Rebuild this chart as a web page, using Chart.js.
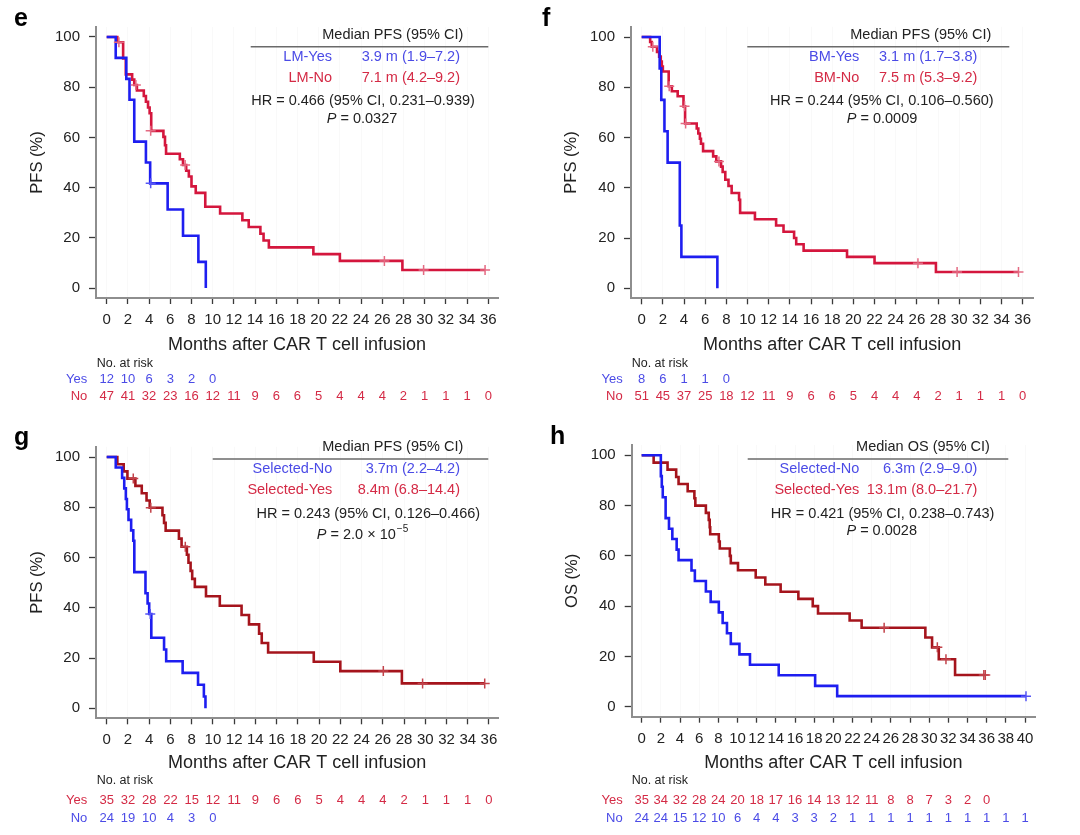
<!DOCTYPE html>
<html><head><meta charset="utf-8">
<script src="https://cdn.jsdelivr.net/npm/chart.js@4.4.1/dist/chart.umd.min.js"></script>
<style>
html,body{margin:0;padding:0;background:#fff;}
#wrap{position:relative;width:1080px;height:835px;overflow:hidden;}
canvas{position:absolute;}
</style></head><body>
<div id="wrap">
<canvas id="cE" width="540" height="420" style="left:0;top:0"></canvas>
<canvas id="cF" width="540" height="420" style="left:540px;top:0"></canvas>
<canvas id="cG" width="540" height="415" style="left:0;top:420px"></canvas>
<canvas id="cH" width="540" height="415" style="left:540px;top:420px"></canvas>
</div>
<script>
// ---------------- DATA ----------------
const months36 = [0,2,4,6,8,10,12,14,16,18,20,22,24,26,28,30,32,34,36];
const months40 = [0,2,4,6,8,10,12,14,16,18,20,22,24,26,28,30,32,34,36,38,40];
const pctTicks = [0,20,40,60,80,100];

// Panel e : LM-Yes (blue) / LM-No (red)
const eYesTime = [0,0.85,1.85,2.15,2.6,3.7,4.1,5.75,7.2,8.65,9.35];
const eYesSurv = [100,91.7,83.3,75.0,58.3,50.0,41.7,31.3,20.8,10.4,0];
const eYesCensTime = [4.15];
const eYesCensSurv = [41.7];
const eNoTime = [0,1.0,1.55,1.8,2.4,2.6,2.85,3.5,3.7,3.9,4.05,4.2,5.35,5.5,5.6,6.9,7.2,7.5,7.75,8.0,8.4,9.3,10.7,12.8,13.4,14.5,14.8,15.3,19.5,22.0,27.9,35.7];
const eNoSurv = [100,97.9,91.5,85.1,83.0,80.9,78.7,76.5,74.2,71.9,69.6,62.6,60.2,56.9,53.5,51.3,49.0,46.7,44.4,40.5,37.9,32.4,29.7,27.0,24.3,21.6,18.9,16.2,13.5,10.8,7.2,7.2];
const eNoCensTime = [1.15,2.75,4.15,7.4,26.2,29.9,35.7];
const eNoCensSurv = [97.9,80.9,62.6,49.0,10.8,7.2,7.2];
const eRiskYes = [12,10,6,3,2,0];
const eRiskNo = [47,41,32,23,16,12,11,9,6,6,5,4,4,4,2,1,1,1,0];

// Panel f : BM-Yes (blue) / BM-No (red)
const fYesTime = [0,1.7,1.85,2.15,2.45,3.6,3.75,7.15];
const fYesSurv = [100,87.5,75.0,62.5,50.0,25.0,12.5,0];
const fNoTime = [0,0.8,0.95,1.45,1.65,1.8,1.9,2.0,2.55,2.85,3.4,3.95,4.1,5.2,5.35,5.5,5.6,5.8,6.75,7.05,7.5,7.65,7.9,8.2,8.5,9.2,9.3,10.7,12.7,13.4,14.4,14.6,15.3,19.4,22.0,27.8,35.6];
const fNoSurv = [100,98.0,96.1,94.1,92.2,90.2,88.2,86.3,80.4,78.4,76.4,72.4,65.6,63.6,61.6,59.5,57.5,54.6,52.5,50.5,48.4,46.3,43.2,40.7,37.9,35.2,30.0,27.5,25.0,22.5,20.0,17.5,15.0,12.5,10.0,6.5,6.5];
const fNoCensTime = [1.05,2.6,4.05,4.15,7.3,26.1,29.8,35.6];
const fNoCensSurv = [96.1,80.4,72.4,65.6,50.5,10.0,6.5,6.5];
const fRiskYes = [8,6,1,1,0];
const fRiskNo = [51,45,37,25,18,12,11,9,6,6,5,4,4,4,2,1,1,1,0];

// Panel g : Selected-No (blue) / Selected-Yes (dark red), PFS
const gNoTime = [0,0.85,1.45,1.65,1.8,1.9,2.05,2.3,2.5,2.6,3.65,3.85,4.0,4.2,5.4,5.6,7.15,8.6,9.15,9.3];
const gNoSurv = [100,95.8,91.7,87.5,83.3,79.2,75.0,70.8,66.7,54.2,45.8,41.7,37.5,28.1,23.4,18.75,14.1,9.4,4.7,0];
const gNoCensTime = [4.1];
const gNoCensSurv = [37.5];
const gYesTime = [0,1.0,1.6,1.95,2.7,3.3,3.75,4.05,5.25,5.4,5.55,6.8,7.05,7.55,7.7,7.9,8.05,8.3,9.35,10.65,12.7,13.4,14.35,14.6,15.2,19.5,22.0,27.8,35.6];
const gYesSurv = [100,97.1,94.3,91.4,88.5,85.6,82.7,79.8,76.8,73.8,70.7,67.5,64.3,61.1,57.9,54.7,51.5,48.3,44.6,40.8,37.1,33.4,29.7,26.0,22.2,18.5,14.8,9.9,9.9];
const gYesCensTime = [2.5,4.15,7.4,26.05,29.75,35.6];
const gYesCensSurv = [91.4,79.8,64.3,14.8,9.9,9.9];
const gRiskYes = [35,32,28,22,15,12,11,9,6,6,5,4,4,4,2,1,1,1,0];
const gRiskNo = [24,19,10,4,3,0];

// Panel h : Selected-No (blue) / Selected-Yes (dark red), OS
const hNoTime = [0,2.0,2.1,2.2,2.5,2.85,3.2,3.65,3.85,5.2,5.55,6.7,7.2,8.05,8.45,8.9,9.3,10.2,11.3,14.3,18.1,20.4,40.1];
const hNoSurv = [100,91.7,87.5,83.3,75.0,70.8,66.7,62.5,58.3,54.2,50.0,45.8,41.7,37.5,33.3,29.2,25.0,20.8,16.7,12.5,8.3,4.2,4.2];
const hNoCensTime = [40.1];
const hNoCensSurv = [4.2];
const hYesTime = [0,1.25,2.7,3.6,3.85,4.8,5.5,5.6,6.7,7.0,7.1,7.15,8.05,8.15,9.2,9.3,10.05,11.9,12.9,14.5,16.35,17.85,18.4,21.7,22.95,29.6,30.3,31.0,32.7,35.8];
const hYesSurv = [100,97.1,94.3,91.4,88.6,85.7,82.9,80.0,77.1,74.3,71.4,68.6,65.7,62.9,60.0,57.1,54.3,51.4,48.6,45.7,42.9,40.0,37.1,34.3,31.4,27.5,23.6,18.9,12.6,12.6];
const hYesCensTime = [25.3,30.85,31.75,35.7,35.85];
const hYesCensSurv = [31.4,23.6,18.9,12.6,12.6];
const hRiskYes = [35,34,32,28,24,20,18,17,16,14,13,12,11,8,8,7,3,2,0];
const hRiskNo = [24,24,15,12,10,6,4,4,3,3,2,1,1,1,1,1,1,1,1,1,1];

// ---------------- STYLE ----------------
const F = "'Liberation Sans', Arial, Helvetica, sans-serif";
const BLUE = '#1e1ef0', BLUE_T = '#4b4be6', BLUE_C = '#5656f5';
const RED = '#d4163d', RED_T = '#d42a45', RED_C = '#e46a82';
const DRED = '#a5141c', DRED_C = '#c2424a';
const AXIS = '#8e8e8e', INK = '#222';

function pts(ts, ss) { return ts.map((t, i) => ({x: t, y: ss[i]})); }

function drawP(ctx, val, exp, cx, y) {
  const fI = 'italic 14.5px ' + F, fR = '14.5px ' + F, fS = '10px ' + F;
  ctx.font = fI; const w1 = ctx.measureText('P').width;
  const rest = ' = ' + val;
  ctx.font = fR; const w2 = ctx.measureText(rest).width;
  let w3 = 0;
  if (exp) { ctx.font = fS; w3 = ctx.measureText(exp).width + 1; }
  let x = cx - (w1 + w2 + w3) / 2;
  ctx.textAlign = 'left'; ctx.fillStyle = INK;
  ctx.font = fI; ctx.fillText('P', x, y); x += w1;
  ctx.font = fR; ctx.fillText(rest, x, y); x += w2;
  if (exp) { ctx.font = fS; ctx.fillText(exp, x + 1, y - 6); }
}

const overlay = {
  id: 'overlay',
  afterDraw(chart, args, o) {
    const ctx = chart.ctx, xs = chart.scales.x;
    ctx.save();
    ctx.textBaseline = 'middle';
    ctx.fillStyle = '#000'; ctx.font = 'bold 25px ' + F; ctx.textAlign = 'left';
    ctx.fillText(o.letter, o.letterPos[0], o.letterPos[1]);
    ctx.font = '14.5px ' + F; ctx.fillStyle = INK; ctx.textAlign = 'center';
    ctx.fillText(o.header, o.headerPos[0], o.headerPos[1]);
    ctx.strokeStyle = '#6a6a6a'; ctx.lineWidth = 1.5;
    ctx.beginPath(); ctx.moveTo(o.rule[0], o.rule[2]); ctx.lineTo(o.rule[1], o.rule[2]); ctx.stroke();
    o.rows.forEach((r, i) => {
      ctx.fillStyle = r.color; ctx.textAlign = 'right';
      ctx.fillText(r.name, o.nameX, o.rowY[i]);
      ctx.fillText(r.value, o.valueX, o.rowY[i]);
    });
    ctx.fillStyle = INK; ctx.textAlign = 'center';
    ctx.fillText(o.hr, o.hrPos[0], o.hrPos[1]);
    drawP(ctx, o.p, o.pExp, o.pPos[0], o.pPos[1]);
    ctx.font = '12.5px ' + F; ctx.fillStyle = INK; ctx.textAlign = 'left';
    ctx.fillText('No. at risk', o.riskTitle[0], o.riskTitle[1]);
    ctx.font = '13px ' + F;
    o.riskRows.forEach((r, i) => {
      ctx.fillStyle = r.color; ctx.textAlign = 'right';
      ctx.fillText(r.label, o.riskLabelX, o.riskY[i]);
      ctx.textAlign = 'center';
      r.values.forEach((v, j) => ctx.fillText(String(v), xs.getPixelForValue(r.times[j]), o.riskY[i]));
    });
    ctx.restore();
  }
};

function lineDs(t, s, color) {
  return {data: pts(t, s), showLine: true, stepped: true, borderColor: color, borderWidth: 2.6,
          pointRadius: 0, fill: false, borderJoinStyle: 'miter', borderCapStyle: 'butt'};
}
function censDs(t, s, color) {
  return {data: pts(t, s), showLine: false, pointStyle: 'cross', pointRadius: 5,
          borderColor: color, borderWidth: 1.5, backgroundColor: color};
}

function buildPanel(id, L, datasets, yTitle, xTicks, ov) {
  new Chart(document.getElementById(id), {
    type: 'scatter',
    data: {datasets: datasets},
    options: {
      responsive: false, animation: false, devicePixelRatio: 1,
      layout: {padding: {left: 0, right: L.padR, top: L.padT, bottom: 0}},
      plugins: {legend: {display: false}, tooltip: {enabled: false}, overlay: ov},
      scales: {
        x: {
          type: 'linear', min: L.xMin, max: L.xMax,
          afterBuildTicks: s => { s.ticks = xTicks.map(v => ({value: v})); },
          afterFit: s => { s.height = L.xH; },
          border: {display: true, color: AXIS, width: 2},
          grid: {display: true, drawOnChartArea: true, color: 'rgba(0,0,0,0.022)', lineWidth: 1,
                 tickColor: '#3a3a3a', tickLength: 6, tickWidth: 1.3},
          ticks: {font: {family: F, size: 15}, color: INK, padding: 7, maxRotation: 0, autoSkip: false},
          title: {display: true, text: 'Months after CAR T cell infusion', font: {family: F, size: 18},
                  color: INK, padding: {top: 0, bottom: L.xTitleOff - 10.8}}
        },
        y: {
          min: L.yMin, max: L.yMax,
          afterBuildTicks: s => { s.ticks = pctTicks.map(v => ({value: v})); },
          afterFit: s => { s.width = L.yW; },
          border: {display: true, color: AXIS, width: 2},
          grid: {drawOnChartArea: false, tickColor: '#3a3a3a', tickLength: 7, tickWidth: 1.3},
          ticks: {font: {family: F, size: 15}, color: INK, padding: 9},
          title: {display: true, text: yTitle, font: {family: F, size: 16.5}, color: INK,
                  padding: {top: L.yTitleX - 9.9, bottom: 0}}
        }
      }
    },
    plugins: [overlay]
  });
}

// Panel e
buildPanel('cE',
  {padR: 42, padT: 27, xH: 122, yW: 96, xMin: -1.01, xMax: 36.92, yMin: -3.98, yMax: 103.98, xTitleOff: 75, yTitleX: 37.5},
  [censDs(eYesCensTime, eYesCensSurv, BLUE_C), censDs(eNoCensTime, eNoCensSurv, RED_C),
   lineDs(eYesTime, eYesSurv, BLUE), lineDs(eNoTime, eNoSurv, RED)],
  'PFS (%)', months36,
  {letter: 'e', letterPos: [14, 19], header: 'Median PFS (95% CI)', headerPos: [392.8, 35], rule: [250.7, 488.3, 46.7],
   nameX: 332, valueX: 460, rowY: [56.7, 78.3],
   rows: [{name: 'LM-Yes', value: '3.9 m (1.9\u20137.2)', color: BLUE_T}, {name: 'LM-No', value: '7.1 m (4.2\u20139.2)', color: RED_T}],
   hr: 'HR = 0.466 (95% CI, 0.231\u20130.939)', hrPos: [363, 101], p: '0.0327', pExp: '', pPos: [362, 119.3],
   riskTitle: [96.7, 364], riskLabelX: 87.3, riskY: [379, 396.7],
   riskRows: [{label: 'Yes', color: BLUE_T, values: eRiskYes, times: months36},
              {label: 'No', color: RED_T, values: eRiskNo, times: months36}]});

// Panel f
buildPanel('cF',
  {padR: 46.7, padT: 26.7, xH: 121.7, yW: 91, xMin: -1.01, xMax: 37.0, yMin: -3.98, yMax: 104.1, xTitleOff: 75, yTitleX: 31.7},
  [censDs(fNoCensTime, fNoCensSurv, RED_C),
   lineDs(fYesTime, fYesSurv, BLUE), lineDs(fNoTime, fNoSurv, RED)],
  'PFS (%)', months36,
  {letter: 'f', letterPos: [2, 19], header: 'Median PFS (95% CI)', headerPos: [380.8, 35], rule: [207.3, 469.3, 46.7],
   nameX: 319.3, valueX: 437.3, rowY: [56.7, 78.3],
   rows: [{name: 'BM-Yes', value: '3.1 m (1.7\u20133.8)', color: BLUE_T}, {name: 'BM-No', value: '7.5 m (5.3\u20139.2)', color: RED_T}],
   hr: 'HR = 0.244 (95% CI, 0.106\u20130.560)', hrPos: [341.8, 101], p: '0.0009', pExp: '', pPos: [342, 119.3],
   riskTitle: [91.7, 364], riskLabelX: 82.7, riskY: [379, 396.7],
   riskRows: [{label: 'Yes', color: BLUE_T, values: fRiskYes, times: months36},
              {label: 'No', color: RED_T, values: fRiskNo, times: months36}]});

// Panel g
buildPanel('cG',
  {padR: 41.7, padT: 26.7, xH: 116.7, yW: 96, xMin: -1.01, xMax: 36.88, yMin: -3.98, yMax: 104.1, xTitleOff: 71.7, yTitleX: 37.5},
  [censDs(gNoCensTime, gNoCensSurv, BLUE_C), censDs(gYesCensTime, gYesCensSurv, DRED_C),
   lineDs(gNoTime, gNoSurv, BLUE), lineDs(gYesTime, gYesSurv, DRED)],
  'PFS (%)', months36,
  {letter: 'g', letterPos: [14, 18], header: 'Median PFS (95% CI)', headerPos: [392.8, 27.3], rule: [212.7, 488.3, 39],
   nameX: 332.3, valueX: 460, rowY: [49.3, 70],
   rows: [{name: 'Selected-No', value: '3.7m (2.2\u20134.2)', color: BLUE_T}, {name: 'Selected-Yes', value: '8.4m (6.8\u201314.4)', color: RED_T}],
   hr: 'HR = 0.243 (95% CI, 0.126\u20130.466)', hrPos: [368.3, 94.3], p: '2.0 \u00d7 10', pExp: '\u22125', pPos: [362.5, 115],
   riskTitle: [96.7, 361], riskLabelX: 87.3, riskY: [380, 398.3],
   riskRows: [{label: 'Yes', color: RED_T, values: gRiskYes, times: months36},
              {label: 'No', color: BLUE_T, values: gRiskNo, times: months36}]});

// Panel h
buildPanel('cH',
  {padR: 45, padT: 25, xH: 118.3, yW: 91.7, xMin: -1.04, xMax: 41.04, yMin: -3.98, yMax: 104.1, xTitleOff: 71.7, yTitleX: 32.3},
  [censDs(hNoCensTime, hNoCensSurv, BLUE_C), censDs(hYesCensTime, hYesCensSurv, DRED_C),
   lineDs(hNoTime, hNoSurv, BLUE), lineDs(hYesTime, hYesSurv, DRED)],
  'OS (%)', months40,
  {letter: 'h', letterPos: [10, 17], header: 'Median OS (95% CI)', headerPos: [383, 27.3], rule: [207.7, 468.3, 39],
   nameX: 319.3, valueX: 437.3, rowY: [49.3, 70],
   rows: [{name: 'Selected-No', value: '6.3m (2.9\u20139.0)', color: BLUE_T}, {name: 'Selected-Yes', value: '13.1m (8.0\u201321.7)', color: RED_T}],
   hr: 'HR = 0.421 (95% CI, 0.238\u20130.743)', hrPos: [342.5, 94.3], p: '0.0028', pExp: '', pPos: [341.7, 111],
   riskTitle: [91.7, 361], riskLabelX: 82.7, riskY: [380, 398.3],
   riskRows: [{label: 'Yes', color: RED_T, values: hRiskYes, times: months40},
              {label: 'No', color: BLUE_T, values: hRiskNo, times: months40}]});
</script>
</body></html>
